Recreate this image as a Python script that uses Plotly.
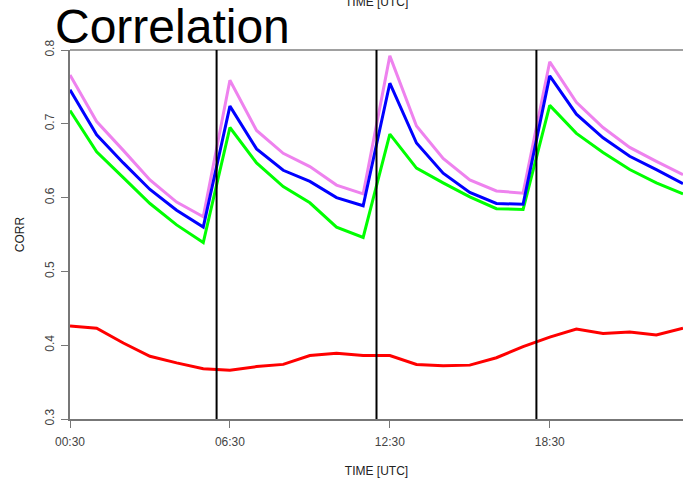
import plotly.graph_objects as go

time_labels = ["00:30", "01:30", "02:30", "03:30", "04:30", "05:30", "06:30", "07:30",
               "08:30", "09:30", "10:30", "11:30", "12:30", "13:30", "14:30", "15:30",
               "16:30", "17:30", "18:30", "19:30", "20:30", "21:30", "22:30", "23:30"]

corr_violet = [0.766, 0.703, 0.664, 0.624, 0.594, 0.574, 0.759, 0.691, 0.660, 0.642, 0.617, 0.605,
               0.792, 0.697, 0.653, 0.624, 0.609, 0.606, 0.784, 0.729, 0.695, 0.668, 0.649, 0.631]
corr_blue = [0.746, 0.685, 0.647, 0.611, 0.583, 0.560, 0.724, 0.666, 0.637, 0.622, 0.600, 0.589,
             0.755, 0.674, 0.633, 0.607, 0.592, 0.591, 0.765, 0.713, 0.681, 0.656, 0.638, 0.619]
corr_green = [0.718, 0.662, 0.627, 0.592, 0.563, 0.539, 0.695, 0.647, 0.615, 0.593, 0.560, 0.546,
              0.686, 0.640, 0.620, 0.601, 0.585, 0.584, 0.725, 0.687, 0.661, 0.638, 0.620, 0.605]
corr_red = [0.426, 0.423, 0.403, 0.385, 0.376, 0.368, 0.366, 0.371, 0.374, 0.386, 0.389, 0.386,
            0.386, 0.374, 0.372, 0.373, 0.383, 0.398, 0.411, 0.422, 0.416, 0.418, 0.414, 0.423]

tick_labels = ["00:30", "06:30", "12:30", "18:30"]
vline_hours = [6, 12, 18]
y_ticks = [0.3, 0.4, 0.5, 0.6, 0.7, 0.8]


def to_hours(s):
    h, m = s.split(":")
    return int(h) + int(m) / 60.0


x = [to_hours(t) for t in time_labels]
tick_x = [to_hours(t) for t in tick_labels]

FONT = "Liberation Sans, Arial, sans-serif"
TOP, BOTTOM, LEFT = 50, 60, 70
PH = 479 - TOP - BOTTOM
PW = 683 - LEFT

fig = go.Figure()
for vals, col in [(corr_red, "#FF0000"), (corr_green, "#00FF00"),
                  (corr_violet, "#EE82EE"), (corr_blue, "#0000FF")]:
    fig.add_trace(go.Scatter(x=x, y=vals, mode="lines",
                             line=dict(color=col, width=3), showlegend=False,
                             hoverinfo="skip"))

for h in vline_hours:
    fig.add_shape(type="line", xref="x", yref="paper", x0=h, x1=h, y0=0, y1=1,
                  line=dict(color="black", width=2), layer="above")

# top axis line (lighter grey, as in reference)
fig.add_shape(type="line", xref="paper", yref="paper", x0=0, x1=1, y0=1, y1=1,
              line=dict(color="#A0A0A0", width=2), layer="below")

fig.update_layout(
    width=683, height=479,
    margin=dict(l=LEFT, r=0, t=TOP, b=BOTTOM),
    paper_bgcolor="white", plot_bgcolor="white",
    font=dict(family=FONT, size=12, color="#222222"),
    xaxis=dict(range=[x[0], x[-1]], tickvals=tick_x, ticktext=tick_labels,
               showgrid=False, zeroline=False, showline=True, linecolor="#777777",
               linewidth=1.5, ticks="outside", ticklen=7, tickcolor="#777777",
               ticklabelstandoff=4,
               tickfont=dict(size=12, color="#444444"),
               title=dict(text="TIME [UTC]", font=dict(size=12, color="#222222"), standoff=18)),
    yaxis=dict(range=[0.3, 0.8], tickvals=y_ticks, ticktext=[f"{v:.1f}" for v in y_ticks],
               showgrid=False, zeroline=False, showline=True, linecolor="#777777",
               linewidth=1.5, ticks="outside", ticklen=7, tickcolor="#777777",
               ticklabelstandoff=2,
               tickangle=-90, tickfont=dict(size=12, color="#444444"),
               title=dict(text="CORR", font=dict(size=12, color="#222222"), standoff=16)),
)

fig.add_annotation(text="Correlation", xref="paper", yref="paper",
                   x=(53 - LEFT) / PW, y=(479 - BOTTOM - 27) / PH, xanchor="left", yanchor="middle",
                   showarrow=False, font=dict(family=FONT, size=48, color="black"))
fig.add_annotation(text="TIME [UTC]", xref="paper", yref="paper",
                   x=(377 - LEFT) / PW, y=(479 - BOTTOM - 2) / PH, xanchor="center", yanchor="middle",
                   showarrow=False, font=dict(family=FONT, size=12, color="#222222"))

fig.write_html("out.html")
